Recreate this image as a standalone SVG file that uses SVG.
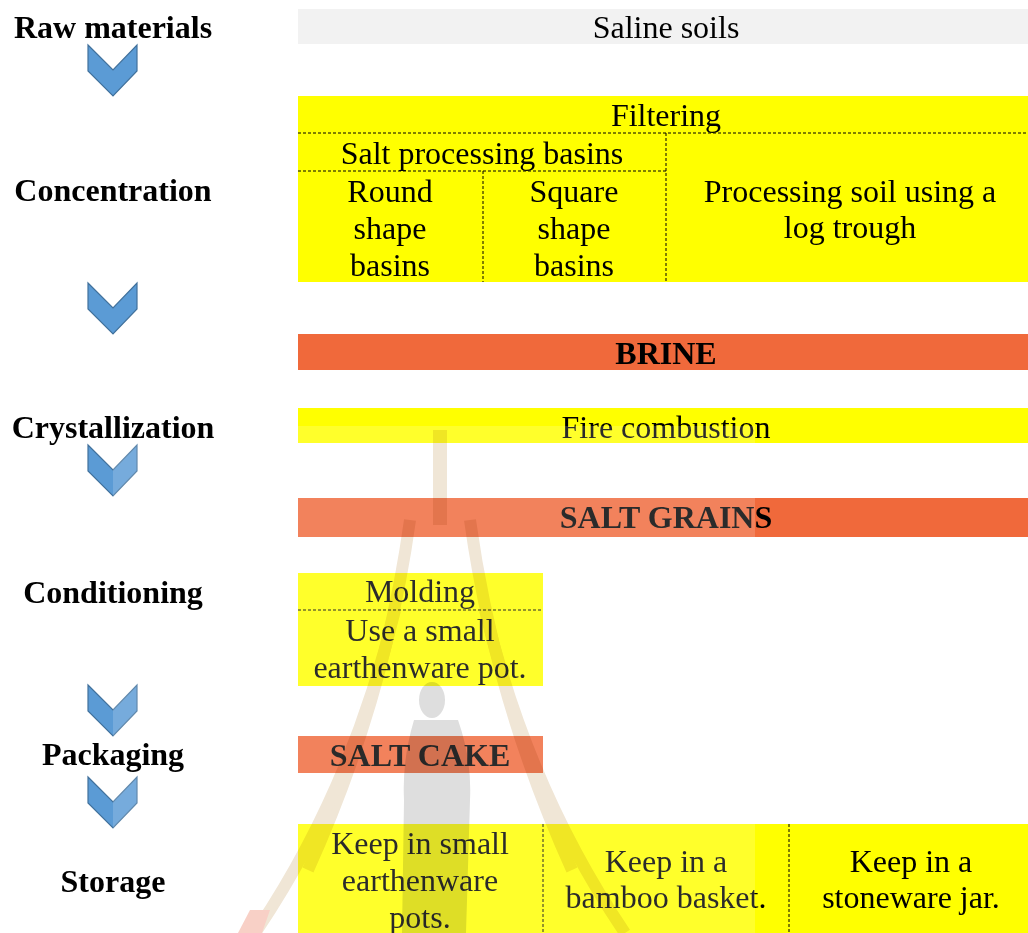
<svg xmlns="http://www.w3.org/2000/svg" width="1028" height="933" viewBox="0 0 1028 933">
<defs>
<style>
.lbl{font-family:"Liberation Serif","Times New Roman",serif;font-weight:bold;font-size:32px;fill:#000;text-anchor:middle}
.t{font-family:"Liberation Serif","Times New Roman",serif;font-size:32px;fill:#000;text-anchor:middle}
.tb{font-family:"Liberation Serif","Times New Roman",serif;font-weight:bold;font-size:32px;fill:#000;text-anchor:middle}
.y{fill:#FFFF00}
.o{fill:#F0693B}
.g{fill:#F2F2F2}
.d{stroke:#000;stroke-width:1;stroke-dasharray:3 2;fill:none}
.chev{fill:#5B9BD5;stroke:#41719C;stroke-width:1.2}
.rail{fill:none;stroke:#F0E6D6;stroke-width:12}
</style>
<polygon id="chevron" points="0,0 25,25 49,0 49,26 25,51 0,26"/>
</defs>
<rect width="1028" height="933" fill="#fff"/>

<g id="connectors">
<use href="#chevron" class="chev" x="88" y="45"/>
<use href="#chevron" class="chev" x="88" y="283"/>
<use href="#chevron" class="chev" x="88" y="445"/>
<use href="#chevron" class="chev" x="88" y="685"/>
<use href="#chevron" class="chev" x="88" y="777"/>
</g>

<g id="saline">
<rect class="g" x="298" y="9" width="730" height="35"/>
<text class="t" x="666" y="38">Saline soils</text>
</g>

<g id="concentration">
<rect class="y" x="298" y="96" width="730" height="186"/>
<line class="d" x1="298" y1="133" x2="1028" y2="133"/>
<line class="d" x1="298" y1="171" x2="666" y2="171"/>
<line class="d" x1="666" y1="133" x2="666" y2="282"/>
<line class="d" x1="483" y1="171" x2="483" y2="282"/>
<text class="t" x="666" y="126">Filtering</text>
<text class="t" x="482" y="164">Salt processing basins</text>
<text class="t" x="390" y="202">Round</text>
<text class="t" x="390" y="239">shape</text>
<text class="t" x="390" y="276">basins</text>
<text class="t" x="574" y="202">Square</text>
<text class="t" x="574" y="239">shape</text>
<text class="t" x="574" y="276">basins</text>
<text class="t" x="850" y="202">Processing soil using a</text>
<text class="t" x="850" y="238">log trough</text>
</g>

<g id="brine">
<rect class="o" x="298" y="334" width="730" height="36"/>
<text class="tb" x="666" y="364">BRINE</text>
</g>

<g id="fire">
<rect class="y" x="298" y="408" width="730" height="35"/>
<text class="t" x="666" y="438">Fire combustion</text>
</g>

<g id="grains">
<rect class="o" x="298" y="498" width="730" height="39"/>
<text class="tb" x="666" y="528">SALT GRAINS</text>
</g>

<g id="molding">
<rect class="y" x="298" y="573" width="245" height="113"/>
<line class="d" x1="298" y1="610" x2="543" y2="610"/>
<text class="t" x="420" y="602">Molding</text>
<text class="t" x="420" y="641">Use a small</text>
<text class="t" x="420" y="678">earthenware pot.</text>
</g>

<g id="cake">
<rect class="o" x="298" y="736" width="245" height="37"/>
<text class="tb" x="420" y="766">SALT CAKE</text>
</g>

<g id="storage">
<rect class="y" x="298" y="824" width="730" height="109"/>
<line class="d" x1="543" y1="824" x2="543" y2="933"/>
<line class="d" x1="789" y1="824" x2="789" y2="933"/>
<text class="t" x="420" y="854">Keep in small</text>
<text class="t" x="420" y="891">earthenware</text>
<text class="t" x="420" y="928">pots.</text>
<text class="t" x="666" y="872">Keep in a</text>
<text class="t" x="666" y="908">bamboo basket.</text>
<text class="t" x="911" y="872">Keep in a</text>
<text class="t" x="911" y="908">stoneware jar.</text>
</g>

<g id="watermark">
<rect x="113" y="426" width="642" height="507" fill="#fff" opacity="0.17"/>
<g style="mix-blend-mode:multiply">
<rect x="433" y="430" width="14" height="95" fill="#F0E6D6"/>
<path class="rail" d="M410,520 Q385,700 308,870"/>
<path class="rail" d="M470,520 Q495,700 572,870"/>
<path class="rail" d="M395,610 Q352,790 255,933"/>
<path class="rail" d="M485,610 Q528,790 625,933"/>
<ellipse cx="432" cy="700" rx="13" ry="18" fill="#DEDEDE"/>
<path d="M414,720 L458,720 Q472,760 470,800 L466,933 L402,933 L404,800 Q402,760 414,720 Z" fill="#DEDEDE"/>
<path d="M238,933 L250,910 L270,910 L262,933 Z" fill="#F8D0C6"/>
</g>
</g>

<g id="labels">
<text class="lbl" x="113" y="38">Raw materials</text>
<text class="lbl" x="113" y="201">Concentration</text>
<text class="lbl" x="113" y="438">Crystallization</text>
<text class="lbl" x="113" y="603">Conditioning</text>
<text class="lbl" x="113" y="765">Packaging</text>
<text class="lbl" x="113" y="892">Storage</text>
</g>
</svg>
